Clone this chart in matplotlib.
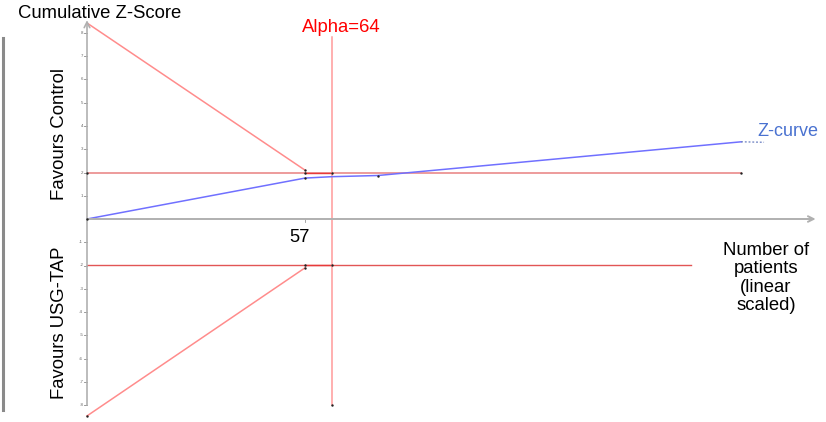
import matplotlib
matplotlib.use("Agg")
import matplotlib.pyplot as plt

plt.rcParams['font.family'] = ['Liberation Sans', 'DejaVu Sans']

# Cumulative Z-curve (patients, z)
z_patients = [0, 57, 64, 76, 171]
z_values = [0.0, 1.76, 1.82, 1.87, 3.32]
z_tail = [171, 177]

# Monitoring boundaries
upper_n = [0, 57]
upper_z = [8.43, 2.10]
lower_n = [0, 57]
lower_z = [-8.47, -2.10]
alpha_n = [57, 64]
alpha_z = 1.96

# Conventional significance lines
conv_upper_n = [0, 171]
conv_lower_n = [0, 158]
conv_z = 1.96

# Required information size
ris = 64
ris_top = 7.83
ris_bottom = -8.0

y_ticks = [-8, -7, -6, -5, -4, -3, -2, -1, 1, 2, 3, 4, 5, 6, 7, 8]
x_tick = 57

W, H = 826, 422
fig = plt.figure(figsize=(W / 100, H / 100), dpi=100)
ax = fig.add_axes([0, 0, 1, 1])
ax.set_axis_off()

px_per_n = 3.825
px_per_z = 23.25
x0_px, y0_px = 87, 219
ax.set_xlim(-x0_px / px_per_n, (W - x0_px) / px_per_n)
ax.set_ylim(-(H - y0_px) / px_per_z, y0_px / px_per_z)


def px_x(p):
    return (p - x0_px) / px_per_n


def px_y(p):
    return (y0_px - p) / px_per_z


axis_col = "#b0b0b0"
# horizontal axis with arrow
ax.annotate("", xy=(190.5, 0), xytext=(0, 0),
            arrowprops=dict(arrowstyle="->", color=axis_col, lw=1.4,
                            shrinkA=0, shrinkB=0))
# vertical axis with arrow
ax.annotate("", xy=(0, 8.55), xytext=(0, -8.0),
            arrowprops=dict(arrowstyle="->", color=axis_col, lw=1.2,
                            shrinkA=0, shrinkB=0))

for t in y_ticks:
    ax.plot([-0.8, 0], [t, t], color="#888888", lw=0.6)
    ax.text(-1.0, t, f"{t}", fontsize=3.2, color="#666666",
            ha="right", va="center")
ax.plot([x_tick, x_tick], [0, -0.12], color="#999999", lw=0.6)
ax.text(px_x(300), px_y(237), f"{x_tick}", fontsize=13.2, ha="center",
        va="center")

red_light = "#ff8c8c"
# conventional lines
ax.plot(conv_upper_n, [conv_z, conv_z], color="#e88080", lw=1.1)
ax.plot(conv_lower_n, [-conv_z, -conv_z], color="#e25555", lw=1.0)

# boundaries
ax.plot(upper_n, upper_z, color=red_light, lw=1.1)
ax.plot(lower_n, lower_z, color=red_light, lw=1.1)
ax.plot(alpha_n, [alpha_z, alpha_z], color="#e83a3a", lw=1.0)
ax.plot(alpha_n, [-alpha_z, -alpha_z], color="#e83a3a", lw=1.0)

# required information size line
ax.plot([ris, ris], [ris_bottom, ris_top], color="#ff9a9a", lw=1.1)

# Z-curve
ax.plot(z_patients, z_values, color="#7070ff", lw=1.1)
ax.plot(z_tail, [z_values[-1], z_values[-1] - 0.02], color="#6a7fc0",
        lw=0.9, ls=(0, (1.5, 1.5)))

# points
pts = [
    (0, 0.0), (57, z_values[1]), (76, z_values[3]),
    (0, conv_z), (conv_upper_n[1], conv_z),
    (57, upper_z[1]), (57, alpha_z), (64, alpha_z),
    (57, lower_z[1]), (57, -alpha_z), (64, -alpha_z),
    (0, lower_z[0]), (ris, ris_bottom),
]
ax.scatter([p[0] for p in pts], [p[1] for p in pts], s=3, color="#222222",
           zorder=5, linewidths=0)

# texts
ax.text(px_x(18), px_y(14), "Cumulative Z-Score", fontsize=13.3,
        ha="left", va="center")
ax.text(px_x(341), px_y(27), f"Alpha={ris}", fontsize=13.3,
        color="#ff0000", ha="center", va="center")
ax.text(px_x(60), px_y(134), "Favours Control",
        fontsize=13.4, rotation=90, ha="center", va="center")
ax.text(px_x(60), px_y(323), "Favours USG-TAP",
        fontsize=13.3, rotation=90, ha="center", va="center")
ax.text(px_x(766), px_y(278),
        "Number of\npatients\n(linear\nscaled)", fontsize=13.3,
        ha="center", va="center", linespacing=1.12)
ax.text(px_x(757), px_y(132), "Z-curve",
        fontsize=13.0, color="#4a72d0", ha="left", va="center")

# left frame edge
ax.plot([px_x(3)] * 2, [px_y(38), px_y(410)], color="#8a8a8a", lw=2.2)

fig.savefig("out.png", dpi=100)
